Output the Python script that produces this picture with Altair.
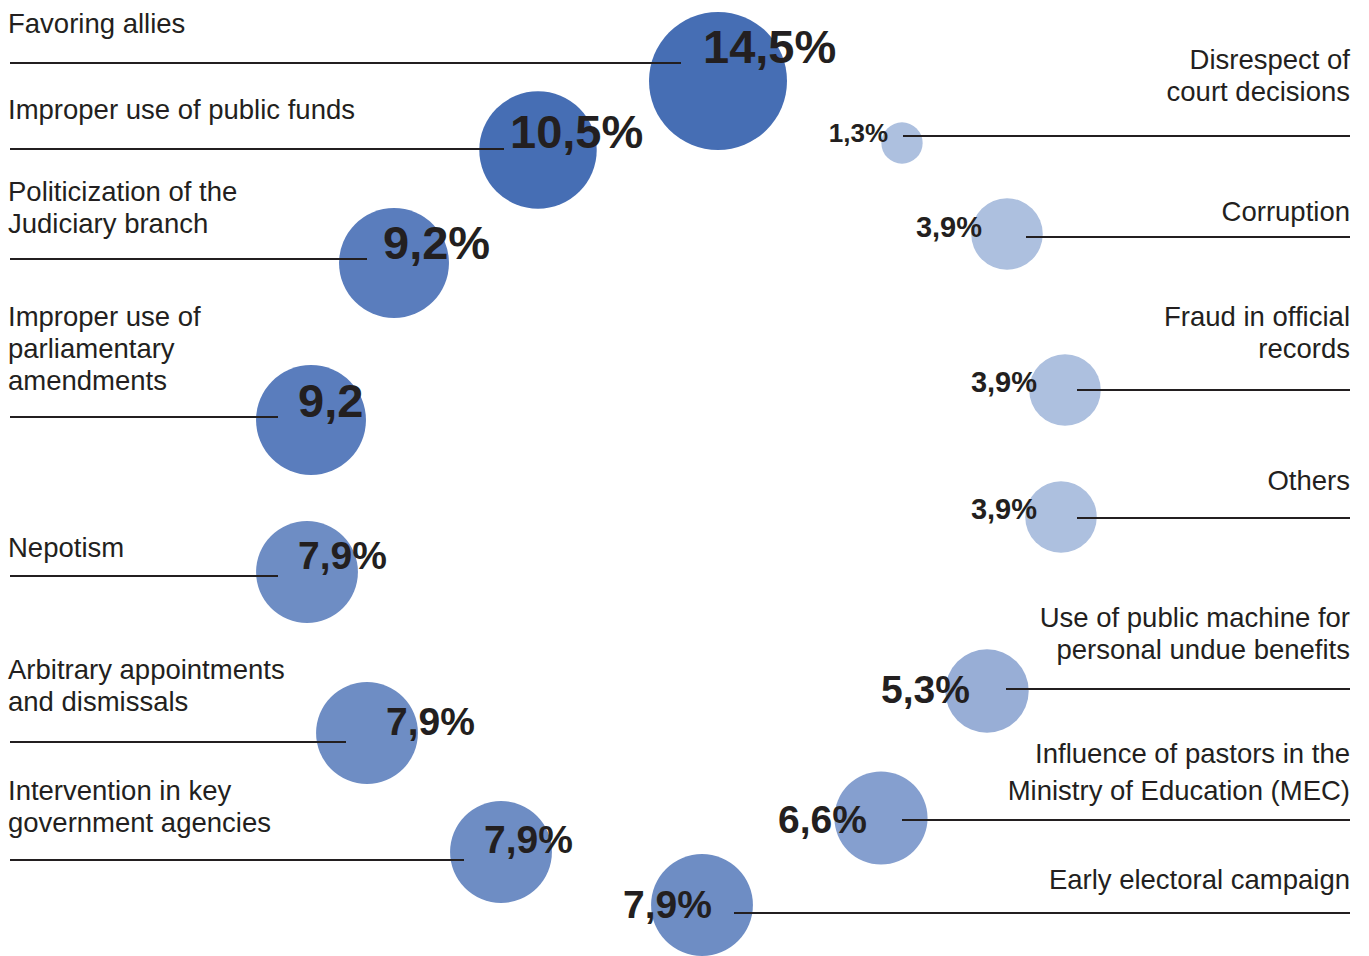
import altair as alt
import pandas as pd

# ---- data -------------------------------------------------------------
categories = [
    "Favoring allies",
    "Improper use of public funds",
    "Politicization of the Judiciary branch",
    "Improper use of parliamentary amendments",
    "Nepotism",
    "Arbitrary appointments and dismissals",
    "Intervention in key government agencies",
    "Disrespect of court decisions",
    "Corruption",
    "Fraud in official records",
    "Others",
    "Use of public machine for personal undue benefits",
    "Influence of pastors in the Ministry of Education (MEC)",
    "Early electoral campaign",
]
shares = [14.5, 10.5, 9.2, 9.2, 7.9, 7.9, 7.9, 1.3, 3.9, 3.9, 3.9, 5.3, 6.6, 7.9]
share_labels = ["14,5%", "10,5%", "9,2%", "9,2", "7,9%", "7,9%", "7,9%",
                "1,3%", "3,9%", "3,9%", "3,9%", "5,3%", "6,6%", "7,9%"]
label_lines = [
    ["Favoring allies"],
    ["Improper use of public funds"],
    ["Politicization of the", "Judiciary branch"],
    ["Improper use of", "parliamentary", "amendments"],
    ["Nepotism"],
    ["Arbitrary appointments", "and dismissals"],
    ["Intervention in key", "government agencies"],
    ["Disrespect of", "court decisions"],
    ["Corruption"],
    ["Fraud in official", "records"],
    ["Others"],
    ["Use of public machine for", "personal undue benefits"],
    ["Influence of pastors in the", "Ministry of Education (MEC)"],
    ["Early electoral campaign"],
]
sides = ["left"] * 7 + ["right"] * 7

# ---- layout (page units, origin at the top-left corner) ---------------
W, H = 1369, 956
bubble_x = [718, 538, 394, 311, 307, 367, 501, 902, 1007, 1065, 1061, 987, 881, 702]
bubble_y = [81, 150, 263, 420, 572, 733, 852, 143, 234, 390, 517, 691, 818, 905]
leader_y = [63, 149, 259, 417, 576, 742, 860, 136, 237, 390, 518, 689, 820, 913]
leader_from = [10] * 7 + [903, 1026, 1077, 1077, 1006, 902, 734]
leader_to = [681, 504, 367, 278, 278, 346, 464] + [1350] * 7
value_x = [703, 510, 383, 298, 298, 386, 484, 888, 982, 1037, 1037, 970, 867, 712]
value_y = [63, 148, 259, 417, 569, 735, 853, 142, 237, 392, 519, 703, 833, 918]
label_y = [33, 119, 201, 326, 557, 679, 800, 69, 221, 326, 490, 627, 763, 889]
label_step = [32] * 12 + [37, 32]
label_x = {"left": 8, "right": 1350}

INK = "#231f20"
FONT = "Liberation Sans"
MAX_D = 138  # diameter of the largest bubble

items = pd.DataFrame({
    "category": categories,
    "share": shares,
    "share_label": share_labels,
    "side": sides,
    "bx": bubble_x,
    "by": bubble_y,
    "ly": leader_y,
    "lx0": leader_from,
    "lx1": leader_to,
    "vx": value_x,
    "vy": value_y,
})

line_rows = []
for cat, side, lines, y0, step in zip(categories, sides, label_lines, label_y, label_step):
    for k, text in enumerate(lines):
        line_rows.append({"category": cat, "side": side, "text": text,
                          "tx": label_x[side], "ty": y0 + k * step})
labels = pd.DataFrame(line_rows)

xs = alt.Scale(domain=[0, W], nice=False, zero=False)
ys = alt.Scale(domain=[0, H], nice=False, zero=False, reverse=True)

bubble_colors = alt.Scale(
    type="threshold",
    domain=[5, 6, 7, 9, 10],
    range=["#adc0df", "#98aed6", "#859fcf", "#6e8dc4", "#5a7dbd", "#466eb4"],
)
# Vega symbol size is the area of the bounding square (diameter squared),
# so bubble area stays proportional to the share.
bubble_area = alt.Scale(domain=[0, max(shares)], range=[0, MAX_D ** 2], zero=True)
value_font = alt.Scale(type="threshold", domain=[2, 5, 9], range=[26, 29, 39, 47])

base = alt.Chart(items)

bubbles = base.mark_circle(opacity=1).encode(
    x=alt.X("bx:Q", scale=xs, axis=None),
    y=alt.Y("by:Q", scale=ys, axis=None),
    size=alt.Size("share:Q", scale=bubble_area, legend=None),
    color=alt.Color("share:Q", scale=bubble_colors, legend=None),
)

leaders = base.mark_rule(color=INK, strokeWidth=2).encode(
    x=alt.X("lx0:Q", scale=xs, axis=None),
    x2="lx1:Q",
    y=alt.Y("ly:Q", scale=ys, axis=None),
)


def value_layer(side, align):
    return base.transform_filter(alt.datum.side == side).mark_text(
        font=FONT, fontWeight="bold", color=INK, align=align, baseline="alphabetic"
    ).encode(
        x=alt.X("vx:Q", scale=xs, axis=None),
        y=alt.Y("vy:Q", scale=ys, axis=None),
        text="share_label:N",
        size=alt.Size("share:Q", scale=value_font, legend=None),
    )


def label_layer(side, align):
    return alt.Chart(labels).transform_filter(alt.datum.side == side).mark_text(
        font=FONT, fontSize=27.5, color=INK, align=align, baseline="alphabetic"
    ).encode(
        x=alt.X("tx:Q", scale=xs, axis=None),
        y=alt.Y("ty:Q", scale=ys, axis=None),
        text="text:N",
    )


chart = alt.layer(
    bubbles,
    leaders,
    value_layer("left", "left"),
    value_layer("right", "right"),
    label_layer("left", "left"),
    label_layer("right", "right"),
).resolve_scale(size="independent").properties(
    width=W,
    height=H,
    padding=0,
    autosize=alt.AutoSizeParams(type="none"),
    background="white",
).configure_view(stroke=None)

chart.save("out.html", embed_options={"renderer": "svg", "actions": False})
